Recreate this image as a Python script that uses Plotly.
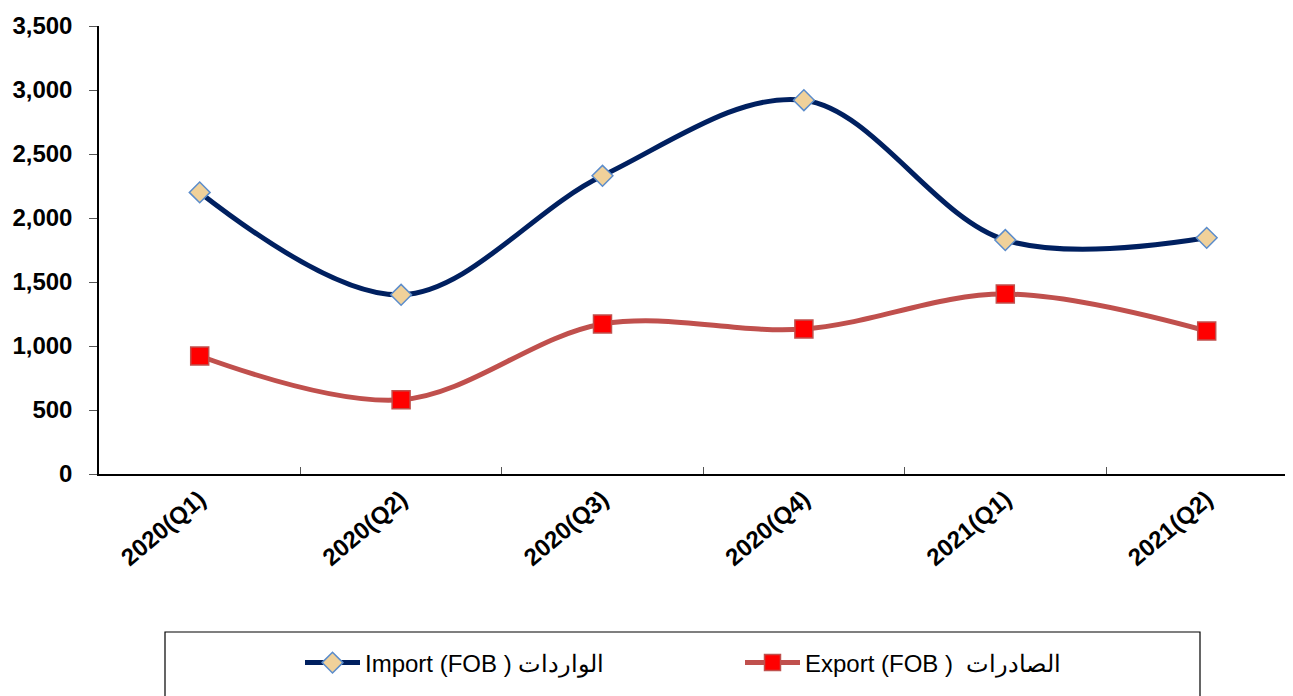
import plotly.graph_objects as go

categories = ["2020(Q1)", "2020(Q2)", "2020(Q3)", "2020(Q4)", "2021(Q1)", "2021(Q2)"]
imports = [2200, 1400, 2330, 2920, 1828, 1845]
exports = [922, 580, 1172, 1133, 1406, 1117]
import_name = "Import (FOB ) الواردات"
export_name = "Export (FOB )  الصادرات"
y_ticks = [0, 500, 1000, 1500, 2000, 2500, 3000, 3500]

fig = go.Figure()
fig.add_trace(go.Scatter(
    x=categories, y=imports, name=import_name, mode="lines+markers",
    line=dict(color="#002060", width=5, shape="spline", smoothing=1),
    marker=dict(symbol="diamond", size=16, color="#F0D19A",
                line=dict(color="#5B8CCB", width=1.5)),
    cliponaxis=False,
))
fig.add_trace(go.Scatter(
    x=categories, y=exports, name=export_name, mode="lines+markers",
    line=dict(color="#C0504D", width=5, shape="spline", smoothing=1),
    marker=dict(symbol="square", size=18, color="#FF0000",
                line=dict(color="#C0504D", width=1.5)),
    cliponaxis=False,
))

OFF = 8  # page body margin
W, H = 1293 - OFF, 696 - OFF
L, T = 99 - OFF, 26 - OFF
B = 696 - 474
plot_w = W - L
plot_h = H - T - B

def px_x(p):
    return (p - OFF - L) / plot_w

def px_y(p):
    return (H - B - (p - OFF)) / plot_h

fig.add_shape(type="rect", xref="paper", yref="paper",
              x0=px_x(165), x1=px_x(1200), y0=px_y(710), y1=px_y(632),
              line=dict(color="#000000", width=1.2), fillcolor="rgba(0,0,0,0)")

fig.update_layout(
    width=W, height=H,
    margin=dict(l=L, r=0, t=T, b=B, pad=0, autoexpand=False),
    paper_bgcolor="white", plot_bgcolor="white",
    font=dict(family="Liberation Sans, Arial, sans-serif", color="#000000"),
    showlegend=True,
    legend=dict(orientation="h", x=px_x(300), xanchor="left",
                y=px_y(663), yanchor="middle",
                font=dict(size=24, color="#000000"),
                entrywidth=370, entrywidthmode="pixels",
                itemwidth=55, bgcolor="rgba(0,0,0,0)", borderwidth=0),
    xaxis=dict(type="category", range=[-0.5, -0.5 + plot_w / 201.4],
               automargin=False,
               showline=True, linecolor="#000000", linewidth=1.5,
               ticks="inside", ticklen=7, tickcolor="#555555",
               tickson="boundaries", tickangle=-40,
               tickfont=dict(size=24, family="Liberation Sans, Arial, sans-serif"),
               showgrid=False, zeroline=False),
    yaxis=dict(range=[0, 3500], tickvals=y_ticks, tickformat=",",
               automargin=False,
               showline=True, linecolor="#000000", linewidth=1.5,
               ticks="outside", ticklen=8, tickcolor="#555555",
               ticklabelstandoff=12,
               tickfont=dict(size=24, family="Liberation Sans, Arial, sans-serif"),
               showgrid=False, zeroline=False),
)
fig.update_xaxes(ticktext=[f"<b>{c}</b>" for c in categories], tickvals=categories)
fig.update_yaxes(ticktext=[f"<b>{v:,}</b>" for v in y_ticks])

fig.write_html("out.html")
